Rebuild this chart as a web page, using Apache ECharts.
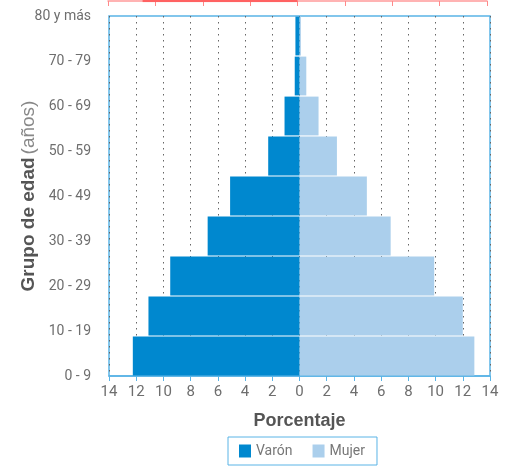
<!DOCTYPE html>
<html>
<head>
<meta charset="utf-8">
<script src="https://cdn.jsdelivr.net/npm/echarts@6/dist/echarts.min.js"></script>
<style>
html,body{margin:0;padding:0;background:#fff;}
#chart{width:505px;height:466px;}
</style>
</head>
<body>
<div id="chart"></div>
<script>
// Age groups, bottom to top
var categories = ['0 - 9','10 - 19','20 - 29','30 - 39','40 - 49','50 - 59','60 - 69','70 - 79','80 y más'];
var tickLabels = ['0 - 9','10 - 19','20 - 29','30 - 39','40 - 49','50 - 59','60 - 69','70 - 79','80 y más'];
var varon = [12.25, 11.1, 9.5, 6.75, 5.1, 2.3, 1.1, 0.35, 0.3];
var mujer = [12.85, 12.0, 9.9, 6.7, 4.95, 2.75, 1.4, 0.5, 0.1];
// cropped decorative axis at the top of the picture
var topAxisHighlight = [[0.73, 0], [4, 0]];

var FONT = 'Roboto, "Liberation Sans", sans-serif';
var FONT_H = '"Liberation Sans", Arial, sans-serif';
var BLUE_LINE = '#5ab4e6';
var chart = echarts.init(document.getElementById('chart'), null, {renderer: 'canvas'});

chart.setOption({
  animation: false,
  textStyle: {fontFamily: FONT},
  grid: [
    {left: 109, right: 15, top: 16, bottom: 90, show: true, borderColor: BLUE_LINE, borderWidth: 1.5,
     containLabel: false, outerBoundsMode: 'none'},
    {left: 108, right: 18, top: -20, height: 21, show: false, outerBoundsMode: 'none'}
  ],
  legend: {
    data: ['Varón', 'Mujer'],
    left: 228,
    top: 437,
    borderColor: BLUE_LINE,
    borderWidth: 1,
    padding: [7, 12, 7, 11],
    itemWidth: 12,
    itemHeight: 13,
    itemGap: 20,
    icon: 'rect',
    textStyle: {fontFamily: FONT, fontSize: 14, color: '#777'}
  },
  xAxis: [
    {
      type: 'value', gridIndex: 0, min: -14, max: 14, interval: 2,
      axisLine: {show: true, lineStyle: {color: BLUE_LINE, width: 1.5}},
      axisTick: {show: true, length: 5, lineStyle: {color: BLUE_LINE, width: 1}},
      axisLabel: {margin: 9, fontSize: 15, color: '#6e6e6e', fontFamily: FONT,
        formatter: function (v) { return Math.abs(v); }},
      splitLine: {show: true, lineStyle: {color: '#666', width: 1, type: [1.5, 4.5]}},
      name: 'Porcentaje', nameLocation: 'middle', nameGap: 36, nameMoveOverlap: false,
      nameTextStyle: {fontSize: 18, fontWeight: 'bold', color: '#555', fontFamily: FONT_H}
    },
    {
      type: 'value', gridIndex: 1, min: 0, max: 8, interval: 1, position: 'bottom',
      axisLine: {show: true, lineStyle: {color: '#ff9a9a', width: 1.5}},
      axisTick: {show: true, length: 5, lineStyle: {color: '#ff8a8a', width: 1}},
      axisLabel: {show: false},
      splitLine: {show: false}
    }
  ],
  yAxis: [
    {
      type: 'category', gridIndex: 0, data: categories,
      axisLine: {show: false}, axisTick: {show: false}, axisLabel: {show: false}, splitLine: {show: false}
    },
    {
      type: 'value', gridIndex: 0, min: 0, max: 8, interval: 1, position: 'left',
      axisLine: {show: false}, axisTick: {show: false}, splitLine: {show: false},
      axisLabel: {margin: 18, fontSize: 14, color: '#6e6e6e', fontFamily: FONT,
        formatter: function (v) { return tickLabels[v]; }},
      name: '{b|Grupo de edad} {n|(años)}', nameLocation: 'middle', nameRotate: 90, nameGap: 71,
      nameMoveOverlap: false,
      nameTextStyle: {
        rich: {
          b: {fontSize: 19, fontWeight: 'bold', color: '#555', fontFamily: FONT_H},
          n: {fontSize: 19, color: '#888', fontFamily: FONT_H}
        }
      }
    },
    {
      type: 'value', gridIndex: 1, min: 0, max: 1, show: false
    }
  ],
  series: [
    {
      name: 'Mujer', type: 'bar', xAxisIndex: 0, yAxisIndex: 0,
      data: mujer, barGap: '-100%', barCategoryGap: '3%',
      itemStyle: {color: '#abcfec'}
    },
    {
      name: 'Varón', type: 'bar', xAxisIndex: 0, yAxisIndex: 0,
      data: varon.map(function (v) { return -v; }), barGap: '-100%', barCategoryGap: '3%',
      itemStyle: {color: '#0088cf'}
    },
    {
      type: 'line', xAxisIndex: 1, yAxisIndex: 2, data: topAxisHighlight,
      symbol: 'none', silent: true, lineStyle: {color: '#ff6262', width: 2.5}
    }
  ]
});
</script>
</body>
</html>
